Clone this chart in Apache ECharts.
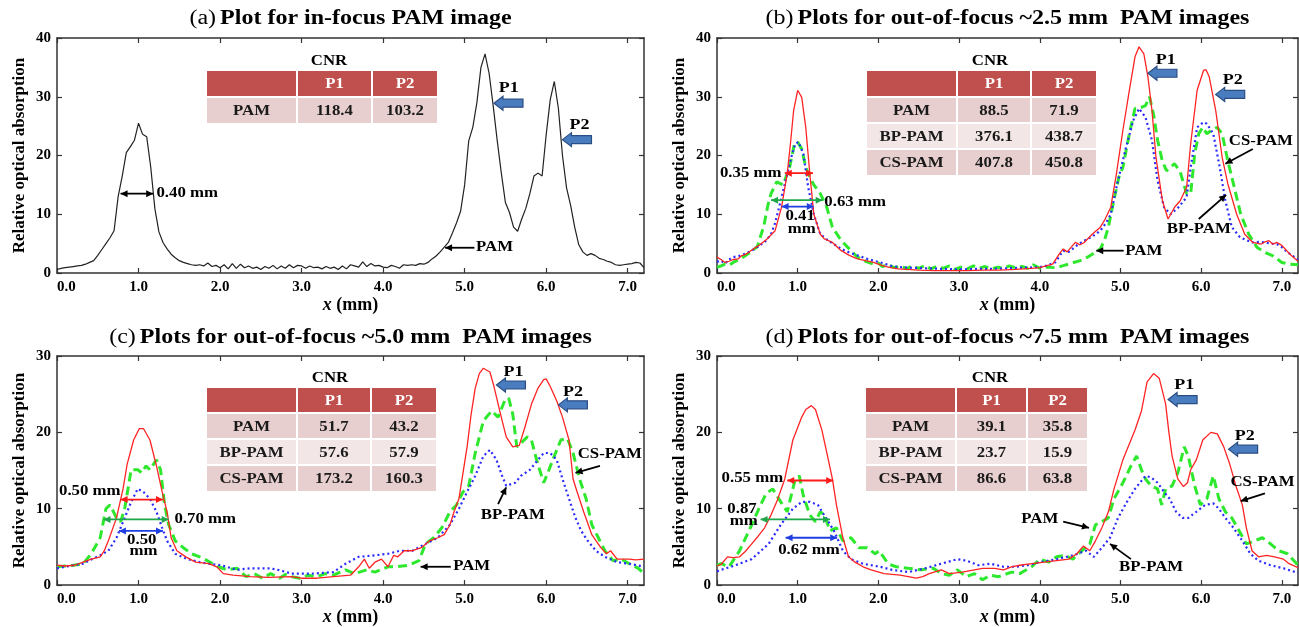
<!DOCTYPE html>
<html><head><meta charset="utf-8">
<script src="https://cdn.jsdelivr.net/npm/echarts/dist/echarts.min.js"></script>
<style>html,body{margin:0;padding:0;background:#fff}#c{width:1299px;height:627px}</style>
</head><body><div id="c"></div>
<script>
// ---------------- DATA ----------------
const xTickVals = [0,1,2,3,4,5,6,7];
const yMaxes = [40,40,30,30];
const titles = [['(a)','Plot for in-focus PAM image'],['(b)','Plots for out-of-focus ~2.5 mm  PAM images'],['(c)','Plots for out-of-focus ~5.0 mm  PAM images'],['(d)','Plots for out-of-focus ~7.5 mm  PAM images']];

const aPAM = [[0,0.6],[0.05,0.8],[0.1,0.9],[0.15,1.0],[0.2,1.1],[0.25,1.2],[0.3,1.3],[0.35,1.5],[0.4,1.8],[0.45,2.1],[0.5,3.0],[0.55,4.0],[0.6,5.0],[0.65,6.0],[0.7,7.2],[0.75,13.0],[0.8,16.5],[0.85,20.5],[0.9,21.5],[0.95,22.6],[1.0,25.5],[1.05,23.6],[1.1,23.2],[1.15,18.0],[1.2,11.0],[1.25,7.0],[1.3,5.2],[1.35,4.1],[1.4,3.2],[1.45,2.6],[1.5,2.1],[1.55,1.8],[1.6,1.6],[1.65,1.4],[1.7,1.3],[1.75,1.4],[1.8,1.2],[1.85,1.7],[1.9,1.1],[1.95,1.3],[2.0,0.9],[2.05,1.4],[2.1,0.7],[2.15,1.6],[2.2,0.8],[2.25,1.5],[2.3,0.9],[2.35,1.2],[2.4,0.8],[2.45,1.0],[2.5,0.6],[2.55,1.1],[2.6,0.8],[2.65,1.3],[2.7,0.7],[2.75,1.2],[2.8,0.8],[2.85,1.4],[2.9,0.9],[2.95,1.3],[3.0,1.2],[3.05,0.8],[3.1,1.2],[3.15,0.9],[3.2,1.0],[3.25,0.7],[3.3,1.1],[3.35,0.8],[3.4,1.0],[3.45,0.6],[3.5,1.2],[3.55,0.7],[3.6,1.4],[3.65,1.2],[3.7,1.0],[3.75,1.9],[3.8,1.1],[3.85,1.6],[3.9,1.2],[3.95,1.3],[4.0,1.0],[4.05,0.9],[4.1,1.3],[4.15,1.1],[4.2,0.8],[4.25,1.4],[4.3,1.3],[4.35,1.4],[4.4,1.3],[4.45,1.6],[4.5,1.5],[4.55,1.8],[4.6,2.4],[4.65,2.9],[4.7,3.6],[4.75,4.4],[4.8,5.2],[4.85,6.8],[4.9,8.5],[4.95,10.5],[5.0,15.0],[5.05,22.5],[5.1,24.8],[5.15,29.0],[5.2,35.0],[5.25,37.3],[5.3,34.0],[5.35,28.5],[5.4,22.5],[5.45,17.0],[5.5,12.0],[5.55,10.3],[5.6,7.8],[5.65,7.1],[5.7,9.2],[5.75,11.0],[5.8,13.5],[5.85,16.5],[5.9,17.0],[5.95,16.5],[6.0,23.5],[6.05,29.5],[6.1,32.6],[6.15,28.0],[6.2,20.0],[6.25,14.5],[6.3,11.5],[6.35,7.8],[6.4,4.8],[6.45,3.6],[6.5,3.0],[6.55,3.3],[6.6,3.0],[6.65,2.5],[6.7,2.3],[6.75,2.0],[6.8,1.8],[6.85,1.4],[6.9,1.3],[6.95,1.4],[7.0,1.5],[7.05,1.6],[7.1,1.8],[7.15,1.7],[7.2,0.9]];

const bPAM = [[0,2.7],[0.05,2.3],[0.1,1.8],[0.15,2.0],[0.2,2.3],[0.26,2.4],[0.3,2.9],[0.36,3.2],[0.44,4.0],[0.52,4.7],[0.62,5.8],[0.72,7.2],[0.8,11.2],[0.87,16.9],[0.91,22],[0.95,27.7],[1.0,31.1],[1.05,29.9],[1.1,24.8],[1.15,16.9],[1.2,10],[1.28,6.6],[1.33,5.8],[1.43,5.2],[1.54,3.8],[1.64,3.0],[1.74,2.4],[1.84,2.1],[1.94,1.8],[2.05,1.25],[2.15,0.9],[2.25,0.7],[2.35,0.6],[2.5,0.5],[2.7,0.4],[2.9,0.4],[3.1,0.4],[3.3,0.5],[3.5,0.5],[3.7,0.6],[3.9,0.8],[4.0,0.9],[4.09,1.25],[4.16,1.5],[4.24,3.2],[4.29,4.1],[4.34,3.6],[4.39,4.4],[4.44,5.2],[4.5,4.8],[4.55,5.2],[4.65,6.6],[4.75,7.8],[4.8,8.9],[4.88,11.2],[4.95,16.9],[5.03,24.3],[5.11,31.1],[5.18,36.8],[5.23,38.5],[5.29,37.3],[5.34,33.4],[5.39,27.7],[5.44,19.7],[5.52,12.3],[5.59,9.2],[5.67,11.2],[5.74,12.3],[5.82,14.6],[5.87,22],[5.95,31.1],[6.03,34.5],[6.06,34.6],[6.1,33.4],[6.18,27.7],[6.26,19.7],[6.33,15.2],[6.44,10],[6.54,6.6],[6.64,5.2],[6.74,4.9],[6.79,5.3],[6.84,5.5],[6.89,4.9],[6.94,5.2],[7.0,4.7],[7.1,3.2],[7.2,2.0]];
const bBP = [[0,1.9],[0.05,2.1],[0.1,1.6],[0.15,2.3],[0.2,2.7],[0.3,3.0],[0.4,3.6],[0.5,4.4],[0.6,5.4],[0.67,6.6],[0.72,8.5],[0.77,11.2],[0.85,15.7],[0.92,19.7],[0.97,22],[1.01,22.3],[1.07,20.3],[1.13,14.6],[1.2,10],[1.28,6.6],[1.38,5.5],[1.46,4.8],[1.54,4.1],[1.64,3.5],[1.74,3.0],[1.84,2.5],[1.94,2.1],[2.05,1.7],[2.15,1.25],[2.25,1.0],[2.4,0.9],[2.6,0.8],[2.8,0.7],[3.0,0.6],[3.2,0.7],[3.4,0.7],[3.6,0.8],[3.8,0.9],[4.0,1.0],[4.1,1.3],[4.19,1.8],[4.24,2.8],[4.29,3.8],[4.36,3.6],[4.45,4.6],[4.55,5.5],[4.65,6.2],[4.75,7.2],[4.82,8.5],[4.88,10],[4.95,14.6],[5.0,17.5],[5.06,20.9],[5.11,23.5],[5.16,26],[5.23,28],[5.31,26.5],[5.39,22.6],[5.46,15.7],[5.54,11.2],[5.62,10],[5.72,11.2],[5.82,12.9],[5.87,18],[5.95,24.8],[6.03,25.7],[6.07,25.4],[6.15,23.7],[6.23,18],[6.3,12.3],[6.38,7.8],[6.48,6.1],[6.56,5.6],[6.64,5.2],[6.72,5.3],[6.79,5.2],[6.86,5.0],[6.94,4.9],[7.0,4.4],[7.07,3.5],[7.13,3.0],[7.2,2.2]];
const bCS = [[0,1.0],[0.05,1.2],[0.1,1.5],[0.15,1.3],[0.2,1.8],[0.3,2.5],[0.4,3.4],[0.5,4.5],[0.58,8],[0.63,11.5],[0.67,13.5],[0.74,15.5],[0.82,15],[0.9,18],[0.96,22],[1.0,22.3],[1.05,21.1],[1.1,18],[1.15,16.3],[1.2,15],[1.28,13.5],[1.36,11.2],[1.43,7.8],[1.54,5.5],[1.64,4.1],[1.74,2.7],[1.84,2.0],[1.94,1.5],[2.0,1.7],[2.05,1.1],[2.12,1.4],[2.2,0.9],[2.28,1.2],[2.35,0.7],[2.42,1.2],[2.5,0.8],[2.58,1.3],[2.65,0.7],[2.72,1.1],[2.8,0.8],[2.88,1.2],[2.95,0.6],[3.02,1.0],[3.1,0.7],[3.18,1.2],[3.25,0.8],[3.32,1.1],[3.4,0.7],[3.48,1.0],[3.55,0.8],[3.62,1.2],[3.7,0.9],[3.78,1.1],[3.85,0.8],[3.92,1.4],[4.0,0.8],[4.09,1.0],[4.2,0.9],[4.29,1.25],[4.4,1.7],[4.5,2.1],[4.58,2.6],[4.65,3.2],[4.75,4.1],[4.8,5.5],[4.85,7.8],[4.9,11.2],[4.98,16.3],[5.03,18],[5.11,23.7],[5.18,28],[5.26,28.2],[5.31,28.5],[5.36,30],[5.41,27],[5.46,22.6],[5.52,19],[5.57,17.4],[5.62,18],[5.67,18.6],[5.74,17.2],[5.82,13.5],[5.87,13.5],[5.92,20.3],[5.97,23.7],[6.02,24.8],[6.07,23.7],[6.13,24.3],[6.2,24.8],[6.26,23.7],[6.33,19.1],[6.41,14.6],[6.49,10],[6.59,6.6],[6.69,4.4],[6.79,3.5],[6.89,2.9],[7.0,1.8],[7.1,1.5],[7.2,1.4]];

const cPAM = [[0,2.6],[0.1,2.5],[0.22,2.6],[0.32,3.0],[0.42,3.4],[0.53,3.7],[0.58,4.5],[0.63,5.8],[0.73,8.8],[0.81,12.6],[0.86,15.8],[0.94,19],[1.01,20.5],[1.06,20.5],[1.14,19],[1.22,15.6],[1.29,12.2],[1.35,9.6],[1.4,6.2],[1.47,4.5],[1.58,3.7],[1.7,3.0],[1.86,2.8],[1.96,2.4],[2.04,1.5],[2.16,1.3],[2.37,1.1],[2.6,1.0],[2.88,1.1],[3.0,0.9],[3.19,0.9],[3.39,1.1],[3.6,1.3],[3.7,2.4],[3.77,3.4],[3.83,2.2],[3.9,3.0],[3.98,3.4],[4.06,2.4],[4.13,3.9],[4.18,3.7],[4.26,4.5],[4.36,4.5],[4.47,4.9],[4.57,5.8],[4.67,6.2],[4.75,6.6],[4.82,7.9],[4.87,9.6],[4.93,11.3],[4.98,14.7],[5.03,18.1],[5.08,22.4],[5.13,25.8],[5.18,27.7],[5.23,28.4],[5.31,27.9],[5.36,26],[5.44,22.4],[5.51,19.4],[5.59,18.1],[5.67,18.3],[5.74,20.7],[5.82,23.7],[5.9,25.8],[5.97,26.9],[6.0,27.0],[6.05,26],[6.13,24.1],[6.2,22],[6.28,19],[6.33,13.9],[6.38,12.2],[6.46,9.6],[6.56,6.6],[6.67,4.9],[6.74,4.1],[6.79,4.5],[6.87,3.4],[7.02,3.4],[7.1,3.3],[7.2,3.4]];
const cBP = [[0,2.2],[0.1,2.4],[0.2,2.6],[0.32,2.8],[0.43,3.4],[0.53,3.9],[0.63,4.5],[0.73,6.2],[0.83,8.8],[0.91,10.9],[0.99,12.6],[1.06,12.2],[1.14,11.3],[1.22,9.6],[1.29,7.5],[1.35,5.8],[1.45,4.1],[1.6,3.4],[1.75,3.0],[1.86,2.8],[2.01,2.6],[2.21,2.0],[2.37,2.2],[2.62,2.2],[2.75,1.9],[2.88,1.5],[3.13,1.5],[3.39,1.7],[3.54,2.8],[3.7,3.7],[3.9,3.9],[4.06,4.1],[4.21,4.5],[4.36,4.5],[4.52,5.4],[4.67,6.2],[4.82,7.9],[4.93,10],[5.03,12.2],[5.13,14.3],[5.23,16.9],[5.31,17.7],[5.39,16.4],[5.46,14.3],[5.51,13],[5.62,13.4],[5.69,14.3],[5.8,15.1],[5.9,16.4],[5.97,17.3],[6.05,17.3],[6.13,16.4],[6.2,13.9],[6.28,11.3],[6.36,8.8],[6.43,7.1],[6.51,5.8],[6.61,4.5],[6.72,3.7],[6.87,3.0],[7.02,2.8],[7.2,2.4]];
const cCS = [[0,2.4],[0.1,2.5],[0.2,2.6],[0.32,2.8],[0.42,4.1],[0.53,6.2],[0.6,10],[0.65,10.5],[0.73,8.8],[0.78,8.3],[0.83,10],[0.91,15.1],[0.99,15.1],[1.04,14.7],[1.09,15.6],[1.14,15.1],[1.22,16.4],[1.27,15.1],[1.32,10.5],[1.37,7.9],[1.45,5.8],[1.55,4.9],[1.65,4.1],[1.75,3.7],[1.81,3.4],[1.91,2.8],[1.98,2.4],[2.09,2.0],[2.21,2.2],[2.32,1.1],[2.42,1.5],[2.52,0.9],[2.62,1.5],[2.73,0.9],[2.8,1.4],[2.88,1.1],[2.98,0.9],[3.08,1.3],[3.19,1.1],[3.29,1.5],[3.39,1.3],[3.54,2.0],[3.65,1.5],[3.8,2.0],[3.9,1.7],[4.06,2.4],[4.16,2.4],[4.31,2.6],[4.44,3.2],[4.52,5.4],[4.62,6.2],[4.72,7.5],[4.82,9.6],[4.9,10.5],[4.98,12.2],[5.05,13],[5.13,17.3],[5.23,21.5],[5.33,22.8],[5.41,22],[5.49,24.1],[5.54,24.5],[5.59,22.4],[5.64,18.1],[5.69,18.6],[5.77,19.4],[5.82,19],[5.87,16.9],[5.92,15.1],[5.97,13.4],[6.02,14.7],[6.1,16.9],[6.18,19],[6.26,19.2],[6.33,17.3],[6.41,13.9],[6.49,11.3],[6.56,7.9],[6.64,6.2],[6.72,4.5],[6.82,3.2],[6.92,3.4],[7.02,2.8],[7.13,2.2],[7.2,1.5]];

const dPAM = [[0,2.5],[0.05,2.7],[0.13,3.7],[0.2,3.6],[0.28,3.7],[0.35,4.4],[0.43,5.4],[0.51,6.4],[0.59,7.5],[0.67,9.2],[0.74,10.9],[0.84,13.9],[0.94,19],[1.05,22],[1.1,23],[1.17,23.5],[1.22,23],[1.3,20.3],[1.38,16.4],[1.43,13.9],[1.48,10.5],[1.56,6.2],[1.63,3.7],[1.71,3.0],[1.81,2.4],[1.91,2.0],[2.07,1.5],[2.27,1.3],[2.47,0.9],[2.55,1.1],[2.63,1.5],[2.78,2.0],[2.88,1.5],[3.04,1.7],[3.19,2.0],[3.29,2.2],[3.44,2.2],[3.55,2.0],[3.65,2.4],[3.75,2.6],[3.9,2.8],[4.06,3.0],[4.21,3.2],[4.36,3.4],[4.46,4.1],[4.54,5.1],[4.62,4.5],[4.69,5.8],[4.77,7.5],[4.85,9.6],[4.92,12.6],[5.03,16.4],[5.13,19],[5.18,20.3],[5.26,22.8],[5.33,26.6],[5.41,27.7],[5.48,27.1],[5.56,23.7],[5.6,20],[5.64,16.9],[5.71,13.9],[5.78,12.9],[5.83,13.4],[5.87,15.1],[5.94,16.4],[6.02,19],[6.12,20],[6.2,19.8],[6.28,18.1],[6.35,16],[6.43,13],[6.51,10.5],[6.56,7.5],[6.63,4.5],[6.71,3.7],[6.81,3.9],[6.91,3.7],[7.02,3.4],[7.09,2.8],[7.2,2.3]];
const dBP = [[0,1.8],[0.05,2.0],[0.23,2.6],[0.43,3.4],[0.64,5.4],[0.79,7.9],[0.94,10],[1.05,10.9],[1.15,10.9],[1.25,10.5],[1.35,8.8],[1.45,7.1],[1.56,4.5],[1.66,3.4],[1.81,2.8],[2.02,2.4],[2.17,2.0],[2.37,1.7],[2.58,2.2],[2.78,2.8],[2.98,3.4],[3.09,3.2],[3.24,2.6],[3.39,2.8],[3.55,2.4],[3.7,2.4],[3.85,2.6],[4.0,3.0],[4.21,3.4],[4.41,3.9],[4.57,4.5],[4.67,3.7],[4.77,4.9],[4.87,6.2],[4.97,8.8],[5.08,10.9],[5.18,12.6],[5.31,14.3],[5.38,14.1],[5.46,13.4],[5.54,12.2],[5.61,11.3],[5.69,9.6],[5.77,8.8],[5.84,8.8],[5.94,9.6],[6.05,10.5],[6.15,10.7],[6.22,10],[6.3,8.8],[6.4,7.5],[6.51,5.8],[6.61,4.1],[6.71,3.2],[6.86,2.6],[7.02,2.2],[7.2,1.6]];
const dCS = [[0,2.6],[0.05,2.8],[0.15,2.4],[0.28,4.5],[0.43,7.9],[0.54,10.5],[0.61,12],[0.69,12.6],[0.79,10.9],[0.87,9.6],[0.97,13.9],[1.02,14.3],[1.07,11.7],[1.15,9.2],[1.22,8.3],[1.28,9.6],[1.33,9.2],[1.4,7.1],[1.48,7.5],[1.56,5.8],[1.66,6.2],[1.76,4.9],[1.86,4.9],[1.96,4.1],[2.01,4.5],[2.12,2.8],[2.22,2.4],[2.37,2.2],[2.53,2.0],[2.68,2.2],[2.78,1.5],[2.88,1.3],[2.98,2.0],[3.09,1.1],[3.19,1.5],[3.29,0.7],[3.39,1.3],[3.49,1.1],[3.65,1.7],[3.75,1.5],[3.9,2.4],[4.0,3.4],[4.11,3.0],[4.21,3.7],[4.31,3.9],[4.41,3.4],[4.52,4.5],[4.62,5.4],[4.69,7.9],[4.77,8.3],[4.85,8.8],[4.92,11.3],[5.03,13.4],[5.13,15.6],[5.2,16.9],[5.26,15.1],[5.31,13.9],[5.38,13],[5.46,12.6],[5.51,10.5],[5.56,12.6],[5.64,13],[5.71,14.7],[5.79,18.1],[5.84,16.9],[5.92,13],[5.99,10.5],[6.07,11.3],[6.15,14.3],[6.22,11.3],[6.3,9.6],[6.38,8.8],[6.45,7.5],[6.56,5.4],[6.66,5.8],[6.76,6.2],[6.86,5.4],[6.96,4.5],[7.07,4.1],[7.2,2.6]];

// CNR tables
const tableRowNames = ['PAM','BP-PAM','CS-PAM'];
const tableCols = ['P1','P2'];
const cnrA = [[118.4,103.2]];
const cnrB = [[88.5,71.9],[376.1,438.7],[407.8,450.8]];
const cnrC = [[51.7,43.2],[57.6,57.9],[173.2,160.3]];
const cnrD = [[39.1,35.8],[23.7,15.9],[86.6,63.8]];

// ---------------- LAYOUT / STYLE ----------------
const FONT = '"Liberation Serif", "Times New Roman", serif';
const STRETCH = 1.2;
const grids = [
  {left:57, top:38, width:587, height:235},
  {left:717, top:38, width:581, height:235},
  {left:57, top:356, width:587, height:234},
  {left:717, top:356, width:581, height:234}
];
const COL = {pam:'#ff2424', bp:'#2a2aff', cs:'#2de82d', black:'#222'};
const panelSeries = [
  [{d:aPAM, c:COL.black, t:'solid', w:1.2, n:'PAM'}],
  [{d:bCS, c:COL.cs, t:[9,5], w:3, n:'CS-PAM'},{d:bBP, c:COL.bp, t:[2,3], w:2.2, n:'BP-PAM'},{d:bPAM, c:COL.pam, t:'solid', w:1.3, n:'PAM'}],
  [{d:cCS, c:COL.cs, t:[9,5], w:3, n:'CS-PAM'},{d:cBP, c:COL.bp, t:[2,3], w:2.2, n:'BP-PAM'},{d:cPAM, c:COL.pam, t:'solid', w:1.3, n:'PAM'}],
  [{d:dCS, c:COL.cs, t:[9,5], w:3, n:'CS-PAM'},{d:dBP, c:COL.bp, t:[2,3], w:2.2, n:'BP-PAM'},{d:dPAM, c:COL.pam, t:'solid', w:1.3, n:'PAM'}]
];

const axisLine = {show:true, onZero:false, lineStyle:{color:'#333', width:1.5}};
const tick = {show:true, inside:true, length:5, lineStyle:{color:'#333', width:1.2}};
const xAxes = [], yAxes = [], series = [];
for (let i = 0; i < 4; i++) {
  xAxes.push({type:'value', gridIndex:i, min:0, max:7.2, position:'bottom', axisLine,
    axisTick:Object.assign({customValues:xTickVals}, tick),
    axisLabel:{customValues:xTickVals, formatter:v=>v.toFixed(1), color:'#000', fontFamily:FONT, fontWeight:'bold', fontSize:15, margin:7, alignMinLabel:'left'},
    splitLine:{show:false},
    name:'{i|x} (mm)', nameLocation:'middle', nameGap:21,
    nameTextStyle:{color:'#000', fontFamily:FONT, fontWeight:'bold', fontSize:18,
      rich:{i:{fontStyle:'italic', fontWeight:'bold', fontFamily:FONT, fontSize:18, color:'#000'}}}});
  xAxes.push({type:'value', gridIndex:i, min:0, max:7.2, position:'top', axisLine,
    axisTick:Object.assign({customValues:xTickVals}, tick), axisLabel:{show:false}, splitLine:{show:false}});
  yAxes.push({type:'value', gridIndex:i, min:0, max:yMaxes[i], interval:10, position:'left', axisLine, axisTick:tick,
    axisLabel:{color:'#000', fontFamily:FONT, fontWeight:'bold', fontSize:15, margin:6},
    splitLine:{show:false},
    name:'Relative optical absorption', nameLocation:'middle', nameGap:29,
    nameTextStyle:{color:'#000', fontFamily:FONT, fontWeight:'bold', fontSize:17}});
  yAxes.push({type:'value', gridIndex:i, min:0, max:yMaxes[i], interval:10, position:'right', axisLine, axisTick:tick,
    axisLabel:{show:false}, splitLine:{show:false}});
  panelSeries[i].forEach(s => series.push({type:'line', name:s.n, xAxisIndex:2*i, yAxisIndex:2*i, data:s.d,
    showSymbol:false, symbol:'none', smooth:false, lineStyle:{color:s.c, width:s.w, type:s.t}, itemStyle:{color:s.c}}));
}

const chart = echarts.init(document.getElementById('c'), null, {renderer:'canvas'});
chart.setOption({animation:false, backgroundColor:'#fff', grid:grids, xAxis:xAxes, yAxis:yAxes, series:series});

// ---------------- ANNOTATIONS ----------------
const ANN = [
  { block:[{tip:[5.36,28.9], lab:'P1', lp:[5.54,31.4]},{tip:[6.2,22.7], lab:'P2', lp:[6.41,25.2]}],
    texts:[['0.40 mm',1.22,13.5,'left'],['PAM',5.14,4.3,'left']],
    arrows:[[[0.78,13.5],[1.18,13.5],'#000',true],[[5.12,4.3],[4.76,4.3],'#000',false]] },
  { block:[{tip:[5.34,34], lab:'P1', lp:[5.56,36.3]},{tip:[6.18,30.4], lab:'P2', lp:[6.39,32.9]}],
    texts:[['0.35 mm',0.8,17,'right'],['0.63 mm',1.33,12.1,'left'],['0.41',1.03,9.6,'center'],['mm',1.05,7.5,'center'],['CS-PAM',6.74,22.4,'center'],['BP-PAM',5.97,7.5,'center'],['PAM',5.06,3.7,'left']],
    arrows:[[[0.84,17],[1.19,17],'#ff1a1a',true],[[0.67,12.4],[1.31,12.4],'#1fa84a',true],[[0.8,11.3],[1.2,11.3],'#1f3fe0',true],
      [[6.64,21.1],[6.3,18.6],'#000',false],[[5.97,9.2],[6.31,13.3],'#000',false],[[5.04,3.8],[4.7,3.8],'#000',false]] },
  { block:[{tip:[5.39,26.2], lab:'P1', lp:[5.6,27.9]},{tip:[6.15,23.6], lab:'P2', lp:[6.33,25.3]}],
    texts:[['0.50 mm',0.78,12.3,'right'],['0.70 mm',1.44,8.6,'left'],['0.50',1.04,5.8,'center'],['mm',1.06,4.4,'center'],['CS-PAM',6.78,17.1,'center'],['BP-PAM',5.59,9.1,'center'],['PAM',4.86,2.5,'left']],
    arrows:[[[0.78,11.2],[1.3,11.2],'#ff1a1a',true],[[0.57,8.6],[1.37,8.6],'#1fa84a',true],[[0.76,7.1],[1.3,7.1],'#1f3fe0',true],
      [[6.66,15.6],[6.36,14.7],'#000',false],[[5.41,10.6],[5.51,12.8],'#000',false],[[4.83,2.4],[4.46,2.4],'#000',false]] },
  { block:[{tip:[5.59,24.3], lab:'P1', lp:[5.79,26.2]},{tip:[6.34,17.8], lab:'P2', lp:[6.54,19.5]}],
    texts:[['0.55 mm',0.82,14,'right'],['0.87',0.31,9.9,'center'],['mm',0.33,8.4,'center'],['0.62 mm',1.14,4.5,'center'],['CS-PAM',6.76,13.4,'center'],['PAM',4.0,8.6,'center'],['BP-PAM',5.38,2.3,'center']],
    arrows:[[[0.87,13.7],[1.44,13.7],'#ff1a1a',true],[[0.54,8.6],[1.4,8.6],'#1fa84a',true],[[0.85,6.2],[1.49,6.2],'#1f3fe0',true],
      [[6.79,12],[6.49,11],'#000',false],[[4.29,8.3],[4.61,7.5],'#000',false],[[5.13,3.4],[4.87,5.4],'#000',false]] }
];
const TABLES = [
  {data:cnrA, xs:[207,297,372,438], ys:[71,98], cnr:[329,61]},
  {data:cnrB, xs:[867,957,1031,1097], ys:[71,98,124,150], cnr:[990,61]},
  {data:cnrC, xs:[207,297,371,437], ys:[388,414,440,466], cnr:[330,378]},
  {data:cnrD, xs:[866,956,1027,1088], ys:[388,414,440,466], cnr:[990,378]}
];

const G = [];
// stretched text (the reference's lettering is horizontally stretched)
const TXT = (text, x, y, align, size, extra) => G.push({type:'text', z:100, x, y, scaleX:STRETCH,
  style:Object.assign({text, x:0, y:0, align:align||'center', verticalAlign:'middle', fill:'#000', font:'bold '+(size||14)+'px '+FONT}, extra||{})});
function headPts(tip, from, size) {
  const dx = tip[0]-from[0], dy = tip[1]-from[1], L = Math.hypot(dx,dy) || 1;
  const ux = dx/L, uy = dy/L, nx = -uy, ny = ux, h = size*0.5;
  return [[tip[0],tip[1]],[tip[0]-ux*size+nx*h, tip[1]-uy*size+ny*h],[tip[0]-ux*size-nx*h, tip[1]-uy*size-ny*h]];
}
function lineArrow(p0, p1, color, both) {
  const sz = 7;
  G.push({type:'line', z:100, shape:{x1:p0[0], y1:p0[1], x2:p1[0], y2:p1[1]}, style:{stroke:color, lineWidth:1.8}});
  G.push({type:'polygon', z:100, shape:{points:headPts(p1,p0,sz)}, style:{fill:color}});
  if (both) G.push({type:'polygon', z:100, shape:{points:headPts(p0,p1,sz)}, style:{fill:color}});
}
function blockArrow(tip, len) {
  const [x,y] = tip;
  const pts = [[x,y],[x+9,y-7],[x+9,y-4],[x+len,y-4],[x+len,y+4],[x+9,y+4],[x+9,y+7]];
  G.push({type:'polygon', z:100, shape:{points:pts}, style:{fill:'#4a7cc0', stroke:'#2b4e82', lineWidth:1.2}});
}
const toPx = (i, p) => chart.convertToPixel({xAxisIndex:2*i, yAxisIndex:2*i}, p);

for (let i = 0; i < 4; i++) {
  const g = grids[i];
  // title
  G.push({type:'text', z:100, x:g.left+g.width/2, y:(i<2?19:338), scaleX:STRETCH,
    style:{text:'{n|'+titles[i][0]+'} {b|'+titles[i][1]+'}', x:0, y:0, align:'center', verticalAlign:'middle',
    rich:{n:{font:'20px '+FONT, fill:'#000'}, b:{font:'bold 20px '+FONT, fill:'#000'}}}});
  const A = ANN[i];
  A.block.forEach(b => {
    const t = toPx(i, b.tip);
    blockArrow(t, 29);
    const l = toPx(i, b.lp);
    TXT(b.lab, l[0], l[1], 'center', 15);
  });
  A.texts.forEach(t => { const p = toPx(i, [t[1], t[2]]); TXT(t[0], p[0], p[1], t[3], 14); });
  A.arrows.forEach(a => lineArrow(toPx(i, a[0]), toPx(i, a[1]), a[2], a[3]));
  // table
  const T = TABLES[i];
  TXT('CNR', T.cnr[0], T.cnr[1], 'center', 14);
  const nRows = T.ys.length;
  for (let r = 0; r < nRows; r++) {
    const y0 = T.ys[r], y1 = (r+1<nRows ? T.ys[r+1] : y0+27) - 2;
    const fill = r === 0 ? '#c0504d' : (r % 2 === 1 ? '#e8cfcf' : '#f3e6e6');
    for (let cI = 0; cI < 3; cI++) {
      const x0 = T.xs[cI] + (cI ? 1 : 0), x1 = T.xs[cI+1] - 1;
      G.push({type:'rect', z:90, shape:{x:x0, y:y0, width:x1-x0, height:y1-y0}, style:{fill}});
      let txt = '';
      if (r === 0) txt = cI ? tableCols[cI-1] : '';
      else txt = cI ? T.data[r-1][cI-1].toFixed(1) : tableRowNames[r-1];
      if (txt) TXT(txt, (x0+x1)/2, (y0+y1)/2+1, 'center', 14, {fill: r===0 ? '#fff' : '#1a1a1a'});
    }
  }
}
chart.setOption({graphic:G});
</script>
</body></html>
